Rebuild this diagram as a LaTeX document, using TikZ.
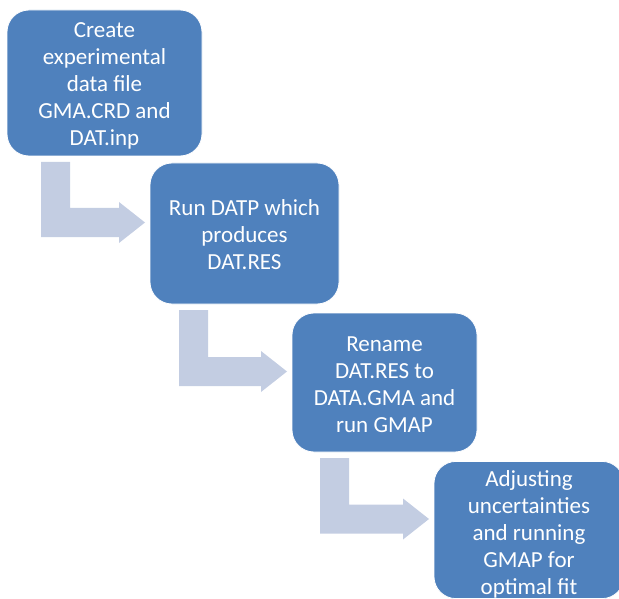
\documentclass[tikz,border=0pt]{standalone}
\usepackage{fontspec}
\setmainfont{Carlito}
\usetikzlibrary{calc}
\definecolor{boxblue}{HTML}{4F81BD}
\definecolor{bendgrey}{HTML}{C3CDE2}
\begin{document}
\begin{tikzpicture}[x=1pt,y=1pt,line join=round,
	stepbox/.style={draw=white,line width=.8pt,fill=boxblue,rounded corners=22pt,inner sep=0pt,outer sep=0pt,text=white,align=center,font=\fontsize{23}{27}\selectfont},
	bendfill/.style={fill=bendgrey}]
			\def\tallrule{\rule{0pt}{26pt}}
			\def\deeprule{\rule[-8pt]{0pt}{8pt}}
			\def\bend#1#2#3{\fill[bendfill] let \p1=(#1.south west), \p2=(#2.west) in
				(\x1+#3pt,\y1-6pt)--(\x1+#3pt+29pt,\y1-6pt)--(\x1+#3pt+29pt,\y2+25.5pt)--(\x2-31pt,\y2+25.5pt)
				--(\x2-31pt,\y2+31.5pt)--(\x2-5pt,\y2+11pt)--(\x2-31pt,\y2-9.5pt)
				--(\x2-31pt,\y2-3.5pt)--(\x1+#3pt,\y2-3.5pt)--cycle;}
			\useasboundingbox (0,0) rectangle (619,-599);
			\node[stepbox,minimum width=195pt,minimum height=146pt] (create) at (104.5,-83) {\tallrule Create\\experimental\\data file\\GMA.CRD and\\DAT.inp\deeprule};
			\node[stepbox,minimum width=189pt,minimum height=141pt] (datp) at (244.5,-233.5) {\tallrule Run DATP which\\produces\\DAT.RES\deeprule};
			\node[stepbox,minimum width=185pt,minimum height=139pt] (gmap) at (384.5,-382.5) {\tallrule Rename\\DAT.RES to\\DATA.GMA and\\run GMAP\deeprule};
			% text fills the last box to the edge
			\node[stepbox,minimum width=190pt,minimum height=136pt] (adjust) at (529,-530) {\rule{0pt}{25.5pt}Adjusting\\uncertainties\\and running\\GMAP for\\optimal fit};
			\bend{create}{datp}{34}
			\bend{datp}{gmap}{29}
			\bend{gmap}{adjust}{28}
	\end{tikzpicture}
\end{document}
